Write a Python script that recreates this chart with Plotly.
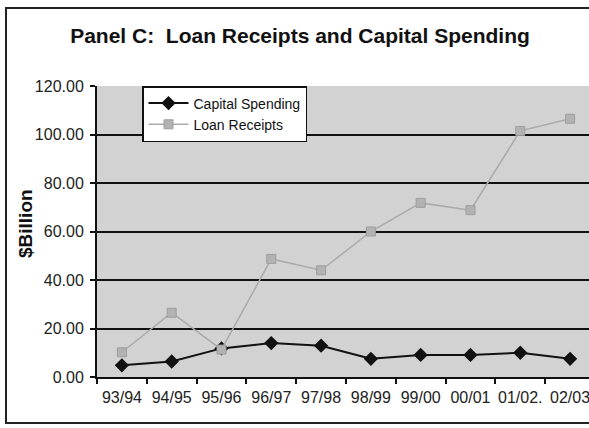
import plotly.graph_objects as go

years = ["93/94", "94/95", "95/96", "96/97", "97/98", "98/99", "99/00", "00/01", "01/02.", "02/03"]
capital_spending = [4.8, 6.4, 11.8, 14.0, 12.9, 7.5, 9.1, 9.1, 10.0, 7.5]
loan_receipts = [10.2, 26.5, 11.3, 48.7, 44.0, 60.0, 71.8, 68.8, 101.5, 106.5]
y_ticks = [0, 20, 40, 60, 80, 100, 120]
y_tick_text = ["0.00", "20.00", "40.00", "60.00", "80.00", "100.00", "120.00"]
grid_vals = [20, 40, 60, 80, 100]

FONT = "Liberation Sans, Arial, sans-serif"

fig = go.Figure()
fig.add_trace(go.Scatter(
    x=years, y=capital_spending, name="Capital Spending", mode="lines+markers",
    line=dict(color="#111111", width=2),
    marker=dict(symbol="diamond", size=11, color="#111111"),
))
fig.add_trace(go.Scatter(
    x=years, y=loan_receipts, name="Loan Receipts", mode="lines+markers",
    line=dict(color="#aaaaaa", width=1.5),
    marker=dict(symbol="square", size=9, color="#b2b2b2", line=dict(color="#9e9e9e", width=1)),
))

fig.update_layout(
    width=589, height=428,
    margin=dict(l=97, r=0, t=86, b=51, autoexpand=False),
    paper_bgcolor="white",
    plot_bgcolor="#d2d2d2",
    font=dict(family=FONT, size=12, color="#222222"),
    title=dict(text="<b>Panel C:  Loan Receipts and Capital Spending</b>",
               x=300 / 589, xref="container", xanchor="center",
               y=1 - 36 / 428, yref="container", yanchor="middle",
               font=dict(family=FONT, size=21, color="#111111")),
    showlegend=True,
    legend=dict(x=(142 - 97) / 492, y=1.0, xanchor="left", yanchor="top",
                bgcolor="white", bordercolor="#111111", borderwidth=1.5,
                font=dict(family=FONT, size=14, color="#111111"),
                tracegroupgap=0, itemwidth=40),
    xaxis=dict(
        type="category", range=[-0.5, 9.38], automargin=False,
        showgrid=False, showline=True, linecolor="#111111", linewidth=2,
        ticks="outside", tickson="boundaries", ticklen=5, tickwidth=1.5, tickcolor="#111111",
        ticklabelstandoff=5, tickangle=0, tickfont=dict(size=16, color="#222222"),
        zeroline=False,
    ),
    yaxis=dict(
        range=[0, 120], tickvals=y_ticks, ticktext=y_tick_text, automargin=False,
        showgrid=False,
        showline=True, linecolor="#111111", linewidth=2,
        ticks="outside", ticklen=5, tickwidth=1.5, tickcolor="#111111",
        ticklabelstandoff=3, tickfont=dict(size=16, color="#222222"),
        zeroline=False,
    ),
    yaxis2=dict(
        range=[0, 120], overlaying="y", side="left", tickvals=grid_vals, showticklabels=False,
        automargin=False, ticks="",
        showgrid=True, gridcolor="#111111", gridwidth=1.5, zeroline=False, showline=False,
    ),
)

# y-axis title placed like the reference
fig.add_annotation(text="<b>$Billion</b>", xref="paper", yref="paper",
                   x=(25 - 97) / 492, y=(377 - 224) / 291, xanchor="center", yanchor="middle",
                   textangle=-90, showarrow=False,
                   font=dict(family=FONT, size=19, color="#111111"))

# attach an invisible trace so yaxis2 (grid lines) renders
fig.add_trace(go.Scatter(x=[years[0]], y=[0], yaxis="y2", mode="markers",
                         marker=dict(opacity=0), showlegend=False, hoverinfo="skip"))

# outer frame (cropped at right in the reference)
fig.add_shape(type="rect", xref="paper", yref="paper",
              x0=(6 - 97) / 492, x1=(600 - 97) / 492,
              y0=(377 - 423) / 291, y1=(377 - 8) / 291,
              line=dict(color="#222222", width=2), layer="below")

fig.write_html("out.html")
